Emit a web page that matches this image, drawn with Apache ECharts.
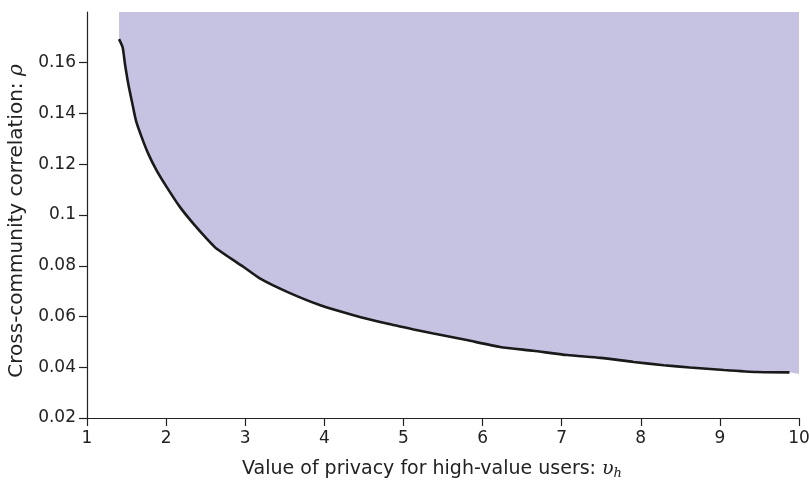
<!DOCTYPE html>
<html>
<head>
<meta charset="utf-8">
<script src="https://cdn.jsdelivr.net/npm/echarts@6/dist/echarts.min.js"></script>
<style>html,body{margin:0;padding:0;background:#fff}#c{width:809px;height:482px}</style>
</head>
<body>
<div id="c"></div>
<script>
// Boundary curve: value of privacy v_h vs cross-community correlation rho
const vh  = [1.405, 1.451, 1.480, 1.522, 1.565, 1.619, 1.692, 1.775, 1.881, 2.008, 2.176, 2.344, 2.513, 2.640, 2.98, 3.19, 3.53, 3.95, 4.37, 4.79, 5.13, 5.38, 5.80, 6.22, 6.64, 7.07, 7.49, 7.91, 8.29, 8.62, 9.05, 9.47, 9.88];
const rho = [0.1693, 0.1660, 0.1595, 0.1516, 0.1451, 0.1372, 0.1306, 0.1241, 0.1175, 0.1110, 0.1031, 0.0966, 0.0907, 0.0867, 0.0795, 0.0749, 0.0697, 0.0644, 0.0605, 0.0572, 0.0549, 0.0533, 0.0507, 0.0480, 0.0465, 0.0448, 0.0437, 0.0421, 0.0408, 0.0399, 0.0389, 0.0381, 0.0380];
// shaded region extends to the right edge
const fillEndX = [10.0];
const fillEndY = [0.0373];
const yTicks = [0.02, 0.04, 0.06, 0.08, 0.10, 0.12, 0.14, 0.16];
const xTicks = [1, 2, 3, 4, 5, 6, 7, 8, 9, 10];

const lineData = vh.map((x, i) => [x, rho[i]]);
const fillData = lineData.concat(fillEndX.map((x, i) => [x, fillEndY[i]]));

const chart = echarts.init(document.getElementById('c'), null, {renderer: 'canvas'});
const font = 'DejaVu Sans';
chart.setOption({
  animation: false,
  backgroundColor: '#fff',
  grid: {left: 87, right: 10, top: 12, bottom: 64, outerBoundsMode: 'none'},
  xAxis: {
    type: 'value', min: 1, max: 10, interval: 1,
    name: 'Value of privacy for high-value users: {i|υ}{s|h}',
    nameLocation: 'middle', nameGap: 40,
    nameTextStyle: {fontFamily: font, fontSize: 19, color: '#222', padding: [0, 22, 0, 0],
      rich: {i: {fontFamily: 'DejaVu Serif', fontStyle: 'italic', fontSize: 19, color: '#222'},
             s: {fontFamily: 'DejaVu Serif', fontStyle: 'italic', fontSize: 13, color: '#222', padding: [9, 0, 0, 0]}}},
    axisLine: {show: true, lineStyle: {color: '#222', width: 1.2}},
    axisTick: {show: true, length: 8, inside: false, lineStyle: {color: '#222', width: 1.2}, customValues: xTicks},
    axisLabel: {fontFamily: font, fontSize: 17, color: '#222', margin: 12, customValues: xTicks},
    splitLine: {show: false}
  },
  yAxis: {
    type: 'value', min: 0.02, max: 0.18, interval: 0.02,
    name: 'Cross-community correlation: {i|ρ}',
    nameLocation: 'middle', nameGap: 58, nameRotate: 90,
    nameTextStyle: {fontFamily: font, fontSize: 20, color: '#222', padding: [0, 12, 0, 0],
      rich: {i: {fontFamily: 'DejaVu Serif', fontStyle: 'italic', fontSize: 20, color: '#222'}}},
    axisLine: {show: true, lineStyle: {color: '#222', width: 1.2}},
    axisTick: {show: true, length: 8, inside: false, lineStyle: {color: '#222', width: 1.2}, customValues: yTicks},
    axisLabel: {fontFamily: font, fontSize: 17, color: '#222', margin: 11, customValues: yTicks,
      formatter: v => String(+(+v).toFixed(2))},
    splitLine: {show: false}
  },
  series: [
    {
      type: 'line', data: fillData, showSymbol: false, symbol: 'none',
      lineStyle: {width: 0, opacity: 0},
      areaStyle: {origin: 'end', color: '#c6c3e2', opacity: 1},
      z: 1
    },
    {
      type: 'line', data: lineData, showSymbol: false, symbol: 'none', smooth: 0.2,
      lineStyle: {color: '#1a1a1a', width: 2.6},
      z: 3
    }
  ]
});
</script>
</body>
</html>
